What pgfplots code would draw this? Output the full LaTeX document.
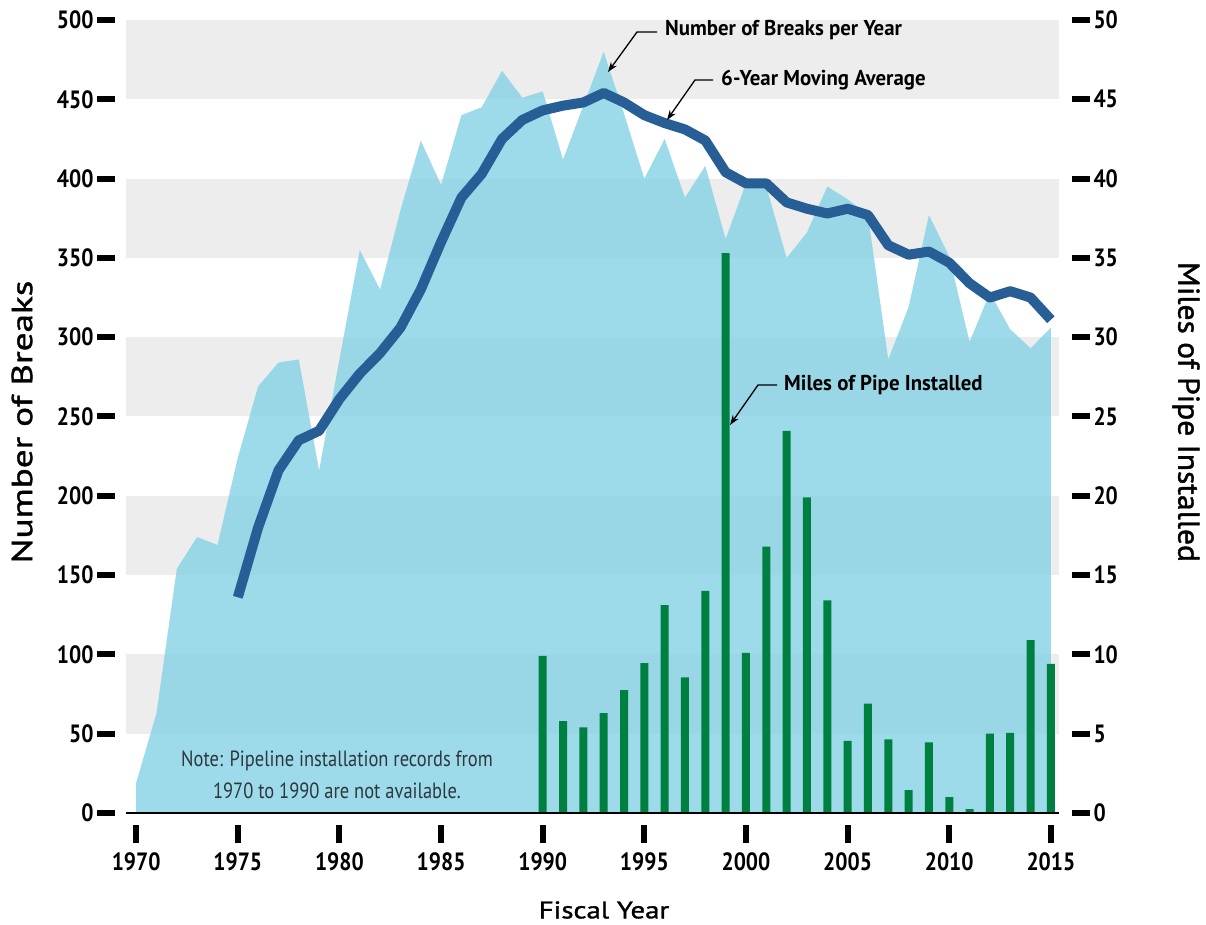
\documentclass[border=0pt]{standalone}
\usepackage{fontspec}
\setmainfont{PT Sans}
\newfontfamily\condfont[FakeStretch=0.86]{PT Sans}
\newfontfamily\annfont[FakeStretch=0.97]{PT Sans}
\newfontfamily\notefont[FakeStretch=0.84]{PT Sans}
\newfontfamily\ltitlefont[FakeStretch=1.28,FakeBold=1.3]{PT Sans}
\newfontfamily\rtitlefont[FakeStretch=1.05,FakeBold=1.3]{PT Sans}
\newfontfamily\btitlefont[FakeStretch=1.2,FakeBold=1.3]{PT Sans}
\usepackage{pgfplots}
\pgfplotsset{compat=1.18}
\usetikzlibrary{arrows.meta}
\definecolor{bandgray}{RGB}{237,237,237}
\definecolor{areablue}{RGB}{132,210,230}
\definecolor{avgblue}{RGB}{40,94,150}
\definecolor{bargreen}{RGB}{0,128,64}
\definecolor{notegray}{RGB}{45,55,60}

\pgfplotstableread{
year breaks
1970 19
1971 63
1972 154
1973 174
1974 169
1975 224
1976 269
1977 284
1978 286
1979 216
1980 286
1981 355
1982 330
1983 380
1984 424
1985 396
1986 440
1987 445
1988 468
1989 451
1990 455
1991 412
1992 446
1993 480
1994 441
1995 400
1996 425
1997 388
1998 408
1999 362
2000 397
2001 395
2002 350
2003 366
2004 395
2005 387
2006 377
2007 286
2008 319
2009 377
2010 351
2011 297
2012 328
2013 305
2014 293
2015 306
}\breaks

\pgfplotstableread{
year avg
1975 136
1976 180
1977 216
1978 235
1979 241
1980 261
1981 277
1982 290
1983 306
1984 330
1985 360
1986 388
1987 403
1988 425
1989 437
1990 443
1991 446
1992 448
1993 454
1994 448
1995 440
1996 435
1997 431
1998 424
1999 404
2000 397
2001 397
2002 385
2003 381
2004 378
2005 381
2006 377
2007 358
2008 352
2009 354
2010 347
2011 334
2012 325
2013 329
2014 325
2015 311
}\movavg

\pgfplotstableread{
year miles
1990 9.9
1991 5.8
1992 5.4
1993 6.3
1994 7.75
1995 9.45
1996 13.1
1997 8.55
1998 14.0
1999 35.3
2000 10.1
2001 16.8
2002 24.1
2003 19.9
2004 13.4
2005 4.55
2006 6.9
2007 4.65
2008 1.45
2009 4.45
2010 1.0
2011 0.25
2012 5.0
2013 5.05
2014 10.9
2015 9.4
}\pipe

\begin{document}
\begin{tikzpicture}[x=1pt,y=1pt]
\useasboundingbox (0,0) rectangle (1206,924);
\begin{axis}[
  at={(126pt,111pt)}, anchor=south west,
  scale only axis, width=933pt, height=793pt,
  xmin=1969.5, xmax=2015.4, ymin=0, ymax=500,
  axis x line*=bottom, axis y line*=left,
  axis x line shift=12pt, axis y line shift=11pt,
  axis line style={draw=none},
  xtick={1970,1975,...,2015}, ytick={0,50,...,500},
  tick align=outside, major tick length=18pt,
  tick style={line width=6pt, black},
  /pgf/number format/assume math mode=true,
  /pgf/number format/set thousands separator={},
  ticklabel style={font=\condfont\bfseries\fontsize{25}{25}\selectfont},
  xticklabel style={yshift=-6pt},
]
\fill[bandgray] (axis cs:1969.5,450) rectangle (axis cs:2015.4,500);
\fill[bandgray] (axis cs:1969.5,350) rectangle (axis cs:2015.4,400);
\fill[bandgray] (axis cs:1969.5,250) rectangle (axis cs:2015.4,300);
\fill[bandgray] (axis cs:1969.5,150) rectangle (axis cs:2015.4,200);
\fill[bandgray] (axis cs:1969.5,50) rectangle (axis cs:2015.4,100);
\addplot[fill=areablue, fill opacity=0.8, draw=none] table[x=year,y=breaks]{\breaks} \closedcycle;
\addplot[avgblue, line width=10pt, line join=round] table[x=year,y=avg]{\movavg};
\end{axis}
\begin{axis}[
  at={(126pt,111pt)}, anchor=south west,
  scale only axis, width=933pt, height=793pt,
  xmin=1969.5, xmax=2015.4, ymin=0, ymax=50,
  axis x line=none, axis y line*=right,
  axis y line shift=13pt,
  axis line style={draw=none},
  ytick={0,5,...,50},
  tick align=outside, major tick length=18pt,
  tick style={line width=6pt, black},
  /pgf/number format/assume math mode=true,
  ticklabel style={font=\condfont\bfseries\fontsize{25}{25}\selectfont},
  clip=false,
]
\addplot[ybar, bar width=8pt, fill=bargreen, draw=none] table[x=year,y=miles]{\pipe};
\draw[black, line width=2.5pt] (axis cs:1969.5,0) -- (axis cs:2015.4,0);
\end{axis}
% axis titles
\node[rotate=90, font=\ltitlefont\fontsize{29}{29}\selectfont] at (22,502) {Number of Breaks};
\node[rotate=-90, font=\rtitlefont\fontsize{30}{30}\selectfont] at (1186,512) {Miles of Pipe Installed};
\node[font=\btitlefont\fontsize{24}{24}\selectfont] at (604,14) {Fiscal Year};
% note
\node[font=\notefont\fontsize{22}{32}\selectfont, text=notegray, align=center] at (337,149) {Note: Pipeline installation records from\\1970 to 1990 are not available.};
% annotations
\node[anchor=west, font=\annfont\bfseries\fontsize{21.5}{21.5}\selectfont, inner sep=0pt] at (665,894) {Number of Breaks per Year};
\node[anchor=west, font=\annfont\bfseries\fontsize{21.5}{21.5}\selectfont, inner sep=0pt] at (721,844) {6-Year Moving Average};
\node[anchor=west, font=\annfont\bfseries\fontsize{21.5}{21.5}\selectfont, inner sep=0pt] at (784,539) {Miles of Pipe Installed};
\draw[line width=1.3pt, -{Stealth[length=10pt, width=7pt]}] (657,892) -- (637,892) -- (608,852);
\draw[line width=1.3pt, -{Stealth[length=10pt, width=7pt]}] (713,844) -- (695,844) -- (667,804);
\draw[line width=1.3pt, -{Stealth[length=10pt, width=7pt]}] (777,539) -- (758,539) -- (730,499);
\end{tikzpicture}
\end{document}
